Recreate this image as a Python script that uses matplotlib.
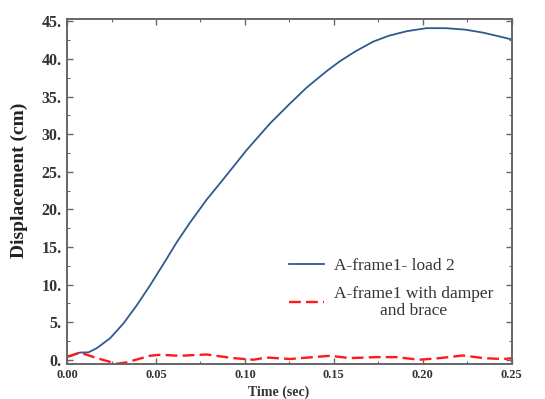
import matplotlib.pyplot as plt
from matplotlib.ticker import MultipleLocator, FuncFormatter

# values
t_frame = [0.0, 0.0017, 0.0073, 0.012, 0.0167, 0.0242, 0.0317, 0.0392, 0.0466,
           0.0541, 0.0616, 0.069, 0.0785, 0.0878, 0.101, 0.114, 0.125, 0.1347,
           0.146, 0.1534, 0.162, 0.172, 0.181, 0.191, 0.202, 0.213, 0.224,
           0.234, 0.243, 0.25]
d_frame = [0.4, 0.45, 0.96, 0.98, 1.54, 2.86, 4.83, 7.24, 9.87,
           12.7, 15.6, 18.2, 21.3, 24.0, 27.9, 31.4, 34.0, 36.2,
           38.4, 39.7, 41.0, 42.3, 43.1, 43.7, 44.1, 44.1, 43.9,
           43.5, 43.0, 42.6]

t_damper = [0.0, 0.0017, 0.0073, 0.0167, 0.0279, 0.0335, 0.0466, 0.0522, 0.0635,
            0.0785, 0.0934, 0.1047, 0.1122, 0.1253, 0.1478, 0.159, 0.174, 0.185,
            0.198, 0.2096, 0.2226, 0.234, 0.245, 0.25]
d_damper = [0.4, 0.53, 0.96, 0.22, -0.53, -0.35, 0.53, 0.66, 0.53,
            0.7, 0.22, 0.0, 0.3, 0.1, 0.53, 0.22, 0.35, 0.35,
            0.0, 0.22, 0.57, 0.22, 0.09, 0.2]

plt.rcParams['font.family'] = ['Liberation Serif', 'DejaVu Serif']

fig = plt.figure(figsize=(5.45, 3.99), dpi=100)
ax = fig.add_axes([0.123, 0.088, 0.816, 0.864])

ax.plot(t_frame, d_frame, color='#2f5a8f', lw=1.3, label='A-frame1- load 2')
ax.plot(t_damper, d_damper, color='#ff1a1a', lw=1.7, ls=(0, (5, 2.2)),
        label='A-frame1 with damper\nand brace')

ax.set_xlim(0, 0.25)
ax.set_ylim(-0.55, 45.3)
ax.xaxis.set_major_locator(MultipleLocator(0.05))
ax.xaxis.set_minor_locator(MultipleLocator(0.025))
ax.yaxis.set_major_locator(MultipleLocator(5))
ax.yaxis.set_minor_locator(MultipleLocator(2.5))
ax.yaxis.set_major_formatter(FuncFormatter(lambda v, p: f"{v:.0f}."))
ax.xaxis.set_major_formatter(FuncFormatter(lambda v, p: f"{v:.2f}"))

ax.tick_params(which='both', direction='in', top=True, right=True,
               colors='#666666', labelcolor='#333333')
ax.tick_params(which='major', length=4, width=1)
ax.tick_params(which='minor', length=2, width=0.8)
ax.tick_params(axis='y', pad=4)
for lab in ax.get_xticklabels():
    lab.set_fontweight('bold')
    lab.set_fontsize(9)
for lab in ax.get_yticklabels():
    lab.set_fontweight('bold')
    lab.set_fontsize(11.5)
for s in ax.spines.values():
    s.set_color('#666666')
    s.set_linewidth(1.4)

ax.set_xlabel('Time (sec)', fontsize=10, fontweight='bold', color='#333333')
ax.xaxis.set_label_coords(0.476, -0.062)
ax.set_ylabel('Displacement (cm)', fontsize=14, fontweight='bold', color='#222222')
ax.yaxis.set_label_coords(-0.088, 0.533)

leg = ax.legend(loc='center', bbox_to_anchor=(0.729, 0.219), frameon=False,
                fontsize=12.5, handlelength=2.0, handletextpad=0.6,
                labelspacing=0.7)
for txt in leg.get_texts():
    txt.set_color('#333333')
leg.get_texts()[1].set_multialignment('center')
leg.get_texts()[1].set_linespacing(1.1)

fig.savefig('out.png', dpi=100)
